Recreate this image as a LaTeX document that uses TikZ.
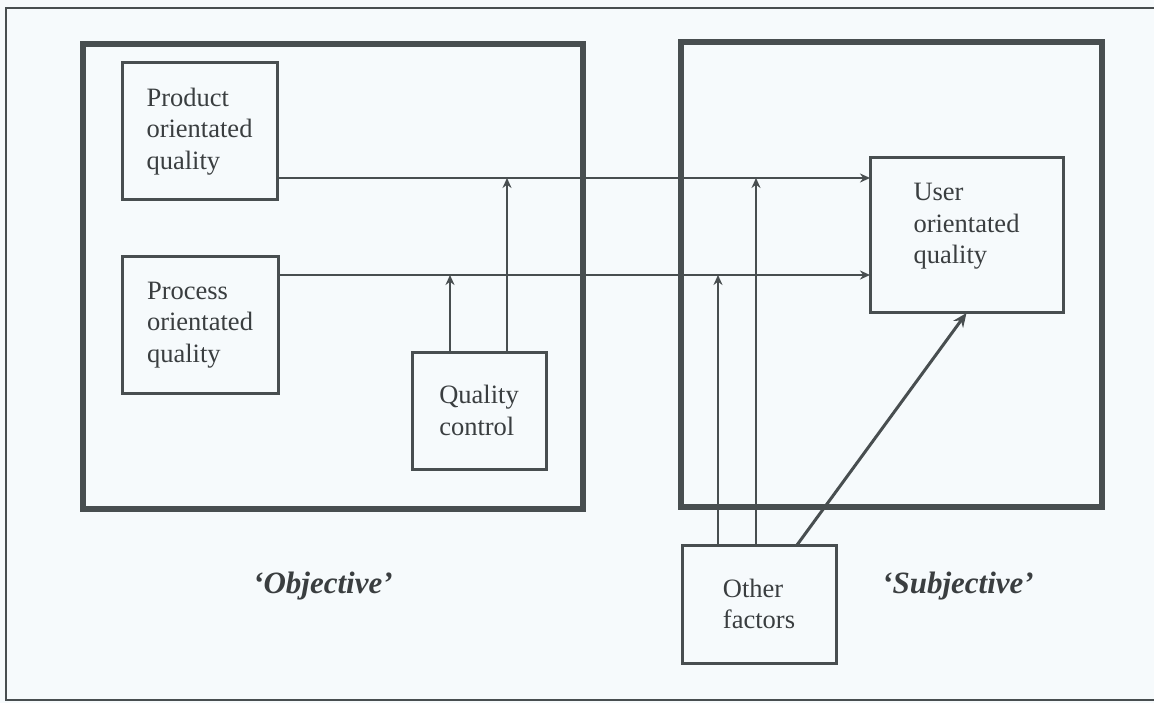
\documentclass[tikz,border=0pt]{standalone}
\usepackage{fontspec}
\setmainfont{Liberation Serif}
\usetikzlibrary{arrows.meta,calc}
\definecolor{ink}{RGB}{72,78,80}
\definecolor{paper}{RGB}{246,250,252}
\definecolor{txt}{RGB}{58,62,64}
\begin{document}
\begin{tikzpicture}[x=1pt,y=-1pt,
  bigframe/.style={draw=ink,line width=5.5pt,outer sep=0pt,inner sep=0pt},
  qbox/.style={draw=ink,line width=3pt,outer sep=0pt,inner sep=0pt,align=left,
    text=txt,font=\fontsize{26.5}{31.5}\selectfont},
  conn/.style={draw=ink,line width=2.6pt},
  arr/.style={conn,-{Stealth[length=10pt,width=9pt]}},
  bigarr/.style={draw=ink,line width=3pt,-{Stealth[length=14pt,width=12pt]}},
  tag/.style={text=txt,inner sep=0pt,font=\fontsize{31}{36}\selectfont\bfseries\itshape}]
% paper and page frame
\fill[paper] (0,0) rectangle (1154,703);
\useasboundingbox (0,0) rectangle (1154,703);
\draw[ink,line width=2.2pt] (1154,8) -- (6,8) -- (6,700) -- (1154,700);

% the two large frames
\node[bigframe,minimum width=500pt,minimum height=465pt] (obj) at (333,276.5) {};
\node[bigframe,minimum width=421pt,minimum height=465pt] (subj) at (891.5,274.5) {};

% quality boxes
\node[qbox,minimum width=155pt,minimum height=137pt] (prod) at (199.5,131.5)
  {Product\\orientated\\quality};
\node[qbox,minimum width=156pt,minimum height=136pt] (proc) at (200,325)
  {Process\\orientated\\quality};
\node[qbox,minimum width=134pt,minimum height=117pt] (qc) at (479,410.5)
  {Quality\\control};
\node[qbox,minimum width=193pt,minimum height=155pt,text depth=24pt] (user) at (966.5,235.5)
  {User\\orientated\\quality};
\node[qbox,minimum width=154pt,minimum height=118pt] (of) at (759,604)
  {Other\\factors};

% labels under the frames
\node[tag,anchor=base west] (objlab) at (253,593) {‘Objective’};
\node[tag,anchor=base west] (subjlab) at (882,593) {‘Subjective’};

% horizontal flows into user orientated quality
\coordinate (pl) at ($(prod.east)+(0,46.5)$);
\coordinate (sl) at ($(proc.east)+(0,-50)$);
\draw[arr] (pl) -- (pl -| user.west);
\draw[arr] (sl) -- (sl -| user.west);

% quality control feeds both flows
\coordinate (q1) at ($(qc.north west)+(38,0)$);
\coordinate (q2) at ($(qc.north west)+(95,0)$);
\draw[arr] (q1) -- (q1 |- sl);
\draw[arr] (q2) -- (q2 |- pl);

% other factors feed both flows and the user side
\coordinate (o1) at ($(of.north west)+(36,0)$);
\coordinate (o2) at ($(of.north west)+(74,0)$);
\coordinate (o3) at ($(of.north west)+(115,0)$);
\draw[arr] (o1) -- (o1 |- sl);
\draw[arr] (o2) -- (o2 |- pl);
\draw[bigarr] (o3) -- (user.south);
\end{tikzpicture}
\end{document}
